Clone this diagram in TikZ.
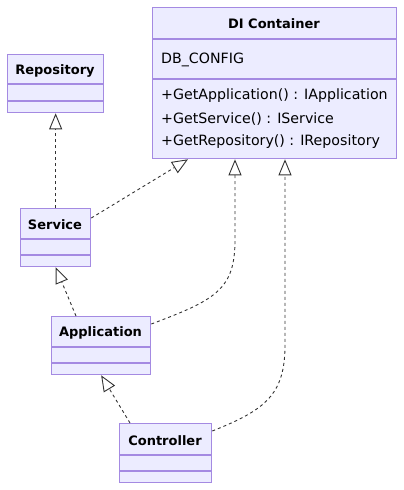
\documentclass[tikz,border=0pt]{standalone}
\usepackage{fontspec}
\setmainfont{DejaVu Sans}
\usetikzlibrary{arrows.meta,calc}
\definecolor{clsfill}{HTML}{ECECFF}
\definecolor{clsline}{HTML}{A48AE2}
\definecolor{ink}{HTML}{333333}
\tikzset{
  cls/.style={draw=clsline, fill=clsfill, line width=1.3pt, inner sep=0pt, anchor=north west},
  divider/.style={draw=clsline, line width=1.3pt},
  title/.style={font=\fontsize{13}{15}\selectfont\bfseries, text=black, inner sep=0pt},
  member/.style={font=\fontsize{14.2}{16}\selectfont, text=black, inner sep=0pt, anchor=west},
  dep/.style={draw=ink, line width=0.9pt, dashed, dash pattern=on 3pt off 3pt,
    -{Triangle[open, length=16pt, width=13pt, line width=0.9pt, fill=white]}},
}
\begin{document}
\begin{tikzpicture}[x=1pt, y=-1pt]
\useasboundingbox (0,0) rectangle (404,490);
% DI Container
\node[cls, minimum width=244, minimum height=151] (di) at (152,7) {};
\node[title] (dit) at (274,24) {DI Container};
\draw[divider] (152,39) -- (396,39);
\node[member] (dia) at (161,60) {DB\_CONFIG};
\draw[divider] (152,79) -- (396,79);
\node[member] (dim1) at (161,96) {+GetApplication() : IApplication};
\node[member] (dim2) at (161,119) {+GetService() : IService};
\node[member] (dim3) at (161,142) {+GetRepository() : IRepository};
% Repository
\node[cls, minimum width=96, minimum height=58] (repo) at (7,54) {};
\node[title] (repot) at (55,71) {Repository};
\draw[divider] (7,84) -- (103,84);
\draw[divider] (7,101) -- (103,101);
% Service
\node[cls, minimum width=70, minimum height=58] (svc) at (20,208) {};
\node[title] (svct) at (55,225) {Service};
\draw[divider] (20,239) -- (90,239);
\draw[divider] (20,255) -- (90,255);
% Application
\node[cls, minimum width=99, minimum height=58] (app) at (51,316) {};
\node[title] (appt) at (100.5,333) {Application};
\draw[divider] (51,347) -- (150,347);
\draw[divider] (51,363) -- (150,363);
% Controller
\node[cls, minimum width=92, minimum height=59] (ctl) at (119,423) {};
\node[title] (ctlt) at (165,441) {Controller};
\draw[divider] (119,455) -- (211,455);
\draw[divider] (119,471) -- (211,471);
% Dependencies
\draw[dep] (svc.north) -- (repo.south);
\draw[dep] ([yshift=-10pt]svc.north east) -- ([xshift=36pt]di.south west);
\draw[dep] ([yshift=-8pt]app.north east) .. controls (215,300) and (235,290) .. (235,240) -- ([xshift=83pt]di.south west);
\draw[dep] ([yshift=-8pt]ctl.north east) .. controls (265,410) and (285,395) .. (285,345) -- ([xshift=133pt]di.south west);
\draw[dep] ([xshift=25pt]app.north west) -- (svc.south);
\draw[dep] ([xshift=11pt]ctl.north west) -- (app.south);
\end{tikzpicture}
\end{document}
